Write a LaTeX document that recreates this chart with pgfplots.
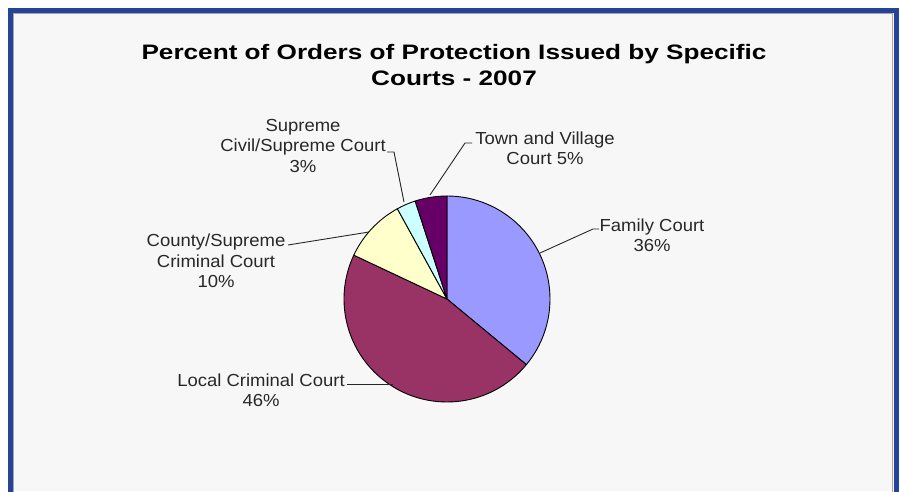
\documentclass[border=0pt]{standalone}
\usepackage{pgfplots}
\usepackage{pgfplotstable}
\pgfplotsset{compat=1.18}
\usepackage{fontspec}
\setmainfont{Liberation Sans}

\definecolor{famc}{RGB}{153,153,255}
\definecolor{locc}{RGB}{153,51,102}
\definecolor{cntc}{RGB}{255,255,204}
\definecolor{supc}{RGB}{204,255,255}
\definecolor{town}{RGB}{102,0,102}
\definecolor{frameblue}{RGB}{38,68,150}
\definecolor{bggray}{RGB}{247,247,247}
\definecolor{txt}{RGB}{40,40,40}

% share of orders, clockwise from 12 o'clock
\pgfplotstableread[col sep=comma]{
court,value,color
Family Court,36,famc
Local Criminal Court,46,locc
County/Supreme Criminal Court,10,cntc
Supreme Civil/Supreme Court,3,supc
Town and Village Court,5,town
}\piedata

\begin{document}
\begin{tikzpicture}
\begin{axis}[
  width=900bp, height=491bp, scale only axis,
  xmin=0, xmax=900, ymin=0, ymax=491,
  hide axis, clip=false,
]
% frame
\fill[white] (axis cs:0,0) rectangle (axis cs:900,491);
\fill[bggray] (axis cs:10,0) rectangle (axis cs:896,481);
\draw[gray!70, line width=1pt] (axis cs:13.5,-5) -- (axis cs:13.5,477.5) -- (axis cs:892.5,477.5) -- (axis cs:892.5,-5);
\draw[frameblue, line width=5bp] (axis cs:10.5,-10) -- (axis cs:10.5,480.5) -- (axis cs:896,480.5) -- (axis cs:896,-10);

% title
\node[font=\fontsize{21}{26}\selectfont\bfseries, align=center, text=black, xscale=1.25]
  at (axis cs:454,426) {Percent of Orders of Protection Issued by Specific\\Courts - 2007};

% wedges
\def\angA{90}
\pgfplotsforeachungrouped \i in {0,...,4}{%
  \pgfplotstablegetelem{\i}{value}\of\piedata \let\val\pgfplotsretval
  \pgfplotstablegetelem{\i}{color}\of\piedata \let\col\pgfplotsretval
  \pgfmathsetmacro\angB{\angA-3.6*\val}%
  \edef\temp{\noexpand\filldraw[fill=\col, draw=black, line width=0.9bp, line join=round]
    (axis cs:447,192) -- ++(\angA:103bp) arc[start angle=\angA, end angle=\angB, radius=103bp] -- cycle;}%
  \temp
  \global\let\angA\angB
}

% leader lines
\draw[txt, line width=0.9bp] (axis cs:540,238) -- (axis cs:593,262) -- (axis cs:599,262);
\draw[txt, line width=0.9bp] (axis cs:430,296) -- (axis cs:465,348) -- (axis cs:472,348);
\draw[txt, line width=0.9bp] (axis cs:404,289) -- (axis cs:394,339) -- (axis cs:387,339);
\draw[txt, line width=0.9bp] (axis cs:369,259) -- (axis cs:288,246);
\draw[txt, line width=0.9bp] (axis cs:393,107) -- (axis cs:347,107);

% labels
\begin{scope}[every node/.style={font=\fontsize{17.5}{20.5}\selectfont, align=center, text=txt, xscale=1.06}]
\node at (axis cs:652,256) {Family Court\\36\%};
\node at (axis cs:545,343) {Town and Village\\Court 5\%};
\node at (axis cs:303,345) {Supreme\\Civil/Supreme Court\\3\%};
\node at (axis cs:216,230) {County/Supreme\\Criminal Court\\10\%};
\node at (axis cs:261,101) {Local Criminal Court\\46\%};
\end{scope}
\end{axis}
\pgfresetboundingbox
\useasboundingbox (current axis.south west) rectangle (current axis.north east);
\end{tikzpicture}
\end{document}
